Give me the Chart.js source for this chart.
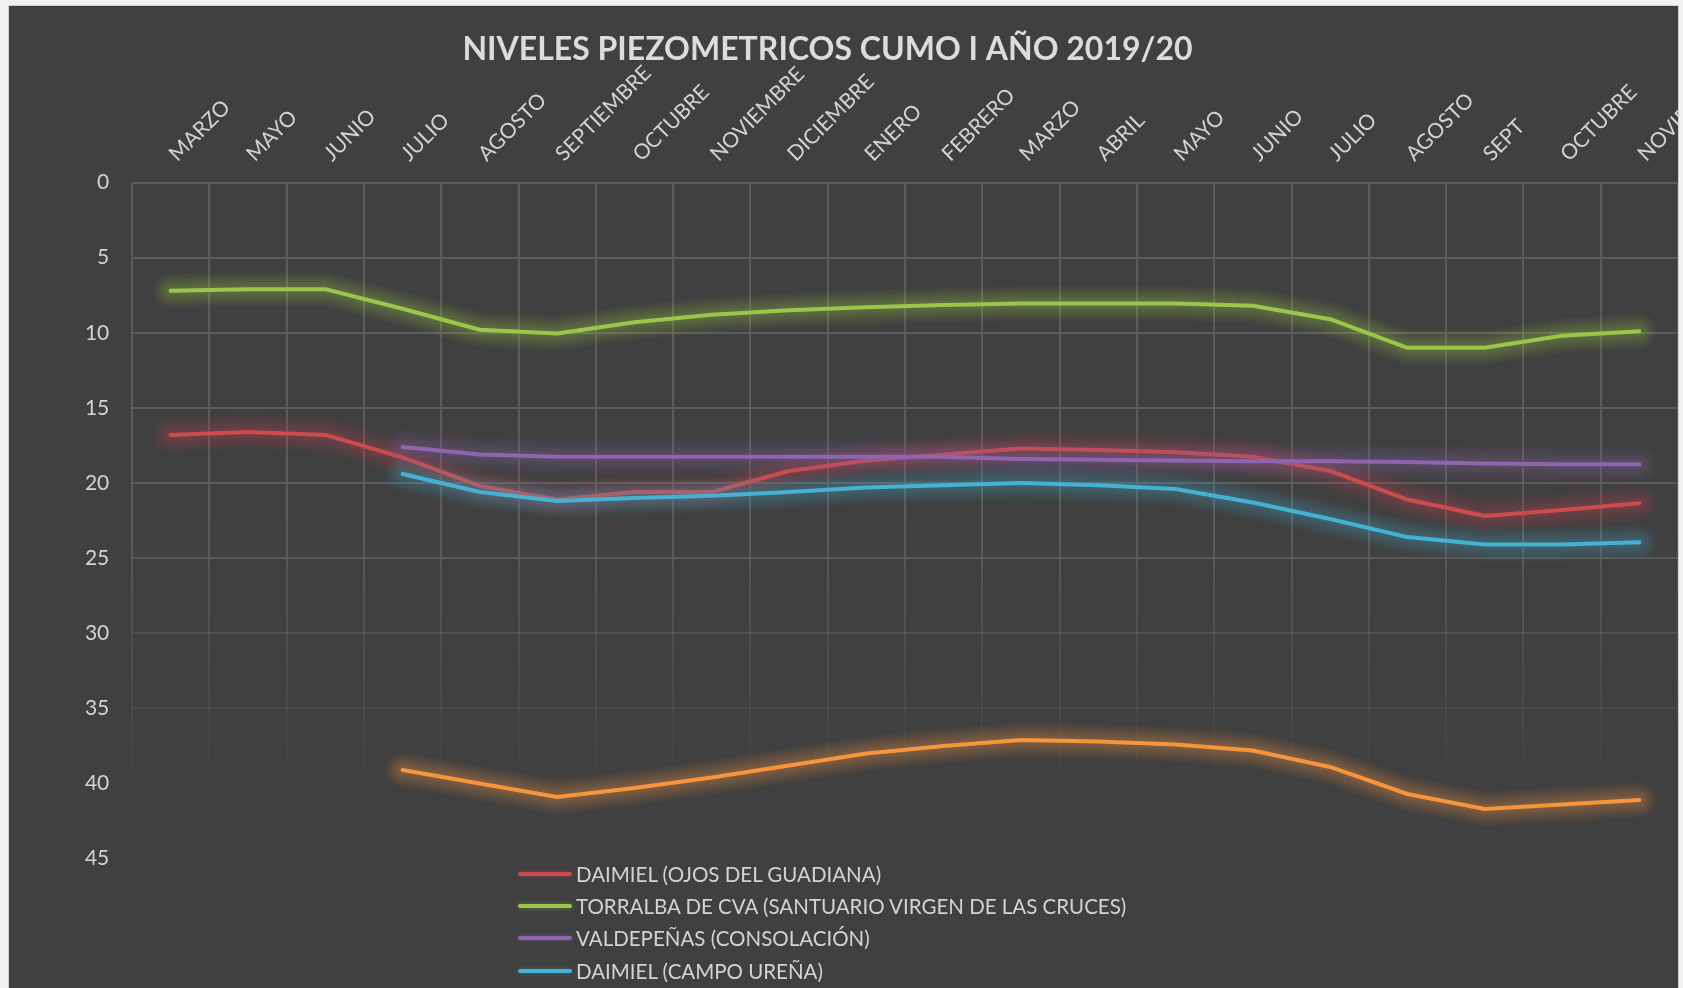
<!DOCTYPE html>
<html>
<head>
<meta charset="utf-8">
<script src="https://cdn.jsdelivr.net/npm/chart.js@4.4.1/dist/chart.umd.min.js"></script>
<style>
  html, body { margin: 0; padding: 0; }
  body { width: 1683px; height: 988px; background: #f2f2f2; overflow: hidden; position: relative; font-family: Lato, sans-serif; }
  #frame { position: absolute; left: 8px; top: 5px; width: 1669px; height: 1010px; background: #404040; border: 1px solid #cfcfcf; overflow: hidden; }
  #chartBox { position: absolute; left: -32px; top: 0; width: 1821px; height: 900px; }
  #legend { position: absolute; left: 509px; top: 852px; }
  #legend .item { height: 32.2px; display: flex; align-items: center; color: #d3d3d3; font-size: 20.5px; white-space: nowrap; }
  #legend .swatch { display: inline-block; width: 54px; height: 4px; border-radius: 2px; margin-right: 4px; }
</style>
</head>
<body>
<div id="frame">
  <div id="chartBox"><canvas id="piezoChart" width="1821" height="900"></canvas></div>
  <div id="legend"></div>
</div>
<script>
  // meses de la campaña 2019/20
  const months = ["MARZO", "MAYO", "JUNIO", "JULIO", "AGOSTO", "SEPTIEMBRE", "OCTUBRE", "NOVIEMBRE", "DICIEMBRE", "ENERO",
    "FEBRERO", "MARZO", "ABRIL", "MAYO", "JUNIO", "JULIO", "AGOSTO", "SEPT", "OCTUBRE", "NOVIEMBRE"];

  const daimielOjos = [16.8, 16.6, 16.8, 18.3, 20.2, 21.1, 20.6, 20.6, 19.2, 18.5, 18.1, 17.7, 17.8, 17.95, 18.25, 19.2, 21.1, 22.2, 21.8, 21.35];
  const torralba = [7.2, 7.1, 7.1, 8.4, 9.8, 10.05, 9.3, 8.8, 8.5, 8.3, 8.15, 8.05, 8.05, 8.05, 8.2, 9.1, 11.0, 11.0, 10.2, 9.9];
  const valdepenas = [null, null, null, 17.6, 18.1, 18.25, 18.25, 18.25, 18.25, 18.25, 18.25, 18.4, 18.45, 18.5, 18.55, 18.55, 18.6, 18.7, 18.75, 18.75];
  const campoUrena = [null, null, null, 19.4, 20.6, 21.2, 21.0, 20.85, 20.6, 20.3, 20.15, 20.0, 20.15, 20.4, 21.3, 22.4, 23.6, 24.1, 24.1, 23.95];
  const serie5 = [null, null, null, 39.1, 40.0, 40.9, 40.3, 39.6, 38.8, 38.0, 37.5, 37.1, 37.2, 37.4, 37.8, 38.9, 40.7, 41.7, 41.4, 41.1];

  const yTicks = [0, 5, 10, 15, 20, 25, 30, 35, 40, 45];

  const textColor = "#d3d3d3";

  function series(label, data, color, glow, idx) {
    return {
      label,
      data,
      borderColor: color,
      backgroundColor: color,
      glowColor: glow,
      borderWidth: 4,
      pointRadius: 0,
      tension: 0,
      borderCapStyle: "round",
      borderJoinStyle: "round",
      order: 10 - idx
    };
  }

  // grid that fades out towards the bottom of the plot
  let gridGradient = null;
  let gridKey = "";
  function gridColor(c) {
    const chart = c.chart;
    const area = chart.chartArea;
    if (!area) return "#585858";
    const key = area.top + "-" + area.bottom;
    if (!gridGradient || gridKey !== key) {
      gridGradient = chart.ctx.createLinearGradient(0, area.top, 0, area.bottom);
      gridGradient.addColorStop(0, "rgba(92,92,92,1)");
      gridGradient.addColorStop(0.5, "rgba(92,92,92,1)");
      gridGradient.addColorStop(0.72, "rgba(92,92,92,0.45)");
      gridGradient.addColorStop(0.9, "rgba(92,92,92,0)");
      gridKey = key;
    }
    return gridGradient;
  }

  // soft glow under every line (several wide translucent strokes)
  const glowWidths = [34, 28, 23, 18, 13, 9];
  const glowPlugin = {
    id: "glow",
    beforeDatasetDraw(chart, args) {
      const ds = chart.data.datasets[args.index];
      const pts = args.meta.data.filter(p => !p.skip);
      if (pts.length < 2) return;
      const c = chart.ctx;
      c.save();
      c.lineJoin = "round";
      c.lineCap = "round";
      c.strokeStyle = ds.glowColor;
      glowWidths.forEach(w => {
        c.lineWidth = w;
        c.beginPath();
        pts.forEach((p, i) => (i ? c.lineTo(p.x, p.y) : c.moveTo(p.x, p.y)));
        c.stroke();
      });
      c.restore();
    }
  };

  const ctx = document.getElementById("piezoChart").getContext("2d");
  const chart = new Chart(ctx, {
    type: "line",
    data: {
      labels: months,
      datasets: [
        series("DAIMIEL (OJOS DEL GUADIANA)", daimielOjos, "#cc4b4d", "rgba(204,75,77,0.06)", 0),
        series("TORRALBA DE CVA (SANTUARIO VIRGEN DE LAS CRUCES)", torralba, "#9bc64b", "rgba(155,198,75,0.06)", 1),
        series("VALDEPEÑAS (CONSOLACIÓN)", valdepenas, "#8f65b2", "rgba(143,101,178,0.06)", 2),
        series("DAIMIEL (CAMPO UREÑA)", campoUrena, "#45b1d3", "rgba(69,177,211,0.06)", 3),
        series("SERIE 5", serie5, "#f7953c", "rgba(247,149,60,0.06)", 4)
      ]
    },
    options: {
      responsive: false,
      animation: false,
      layout: { padding: { left: 0, right: 120, top: 0, bottom: 47.4 } },
      plugins: {
        legend: { display: false },
        tooltip: { enabled: false },
        title: {
          display: true,
          text: "NIVELES PIEZOMETRICOS CUMO I AÑO 2019/20",
          color: "#dcdcdc",
          font: { family: "Lato", size: 32, weight: "bold", lineHeight: 0.5 },
          padding: { top: 35.2, bottom: 0 }
        }
      },
      scales: {
        x: {
          position: "top",
          offset: true,
          grid: { offset: true, color: gridColor, lineWidth: 2, drawTicks: false },
          border: { display: false },
          ticks: {
            autoSkip: false,
            minRotation: 45,
            maxRotation: 45,
            color: textColor,
            padding: 16,
            labelOffset: 20,
            font: { family: "Lato", size: 21 }
          },
          afterFit: s => { s.height = 125.3; }
        },
        y: {
          reverse: true,
          min: yTicks[0],
          max: yTicks[yTicks.length - 1],
          afterBuildTicks: s => { s.ticks = yTicks.map(v => ({ value: v })); },
          grid: { color: gridColor, lineWidth: 2, drawTicks: false },
          border: { display: false },
          ticks: {
            color: textColor,
            padding: 22.7,
            font: { family: "Lato", size: 21 }
          },
          afterFit: s => { s.width = 155; }
        }
      }
    },
    plugins: [glowPlugin]
  });

  const legendBox = document.getElementById("legend");
  chart.data.datasets.forEach(ds => {
    const row = document.createElement("div");
    row.className = "item";
    const swatch = document.createElement("span");
    swatch.className = "swatch";
    swatch.style.background = ds.borderColor;
    swatch.style.boxShadow = "0 0 5px " + ds.borderColor + "66";
    const text = document.createElement("span");
    text.textContent = ds.label;
    row.appendChild(swatch);
    row.appendChild(text);
    legendBox.appendChild(row);
  });
</script>
</body>
</html>
